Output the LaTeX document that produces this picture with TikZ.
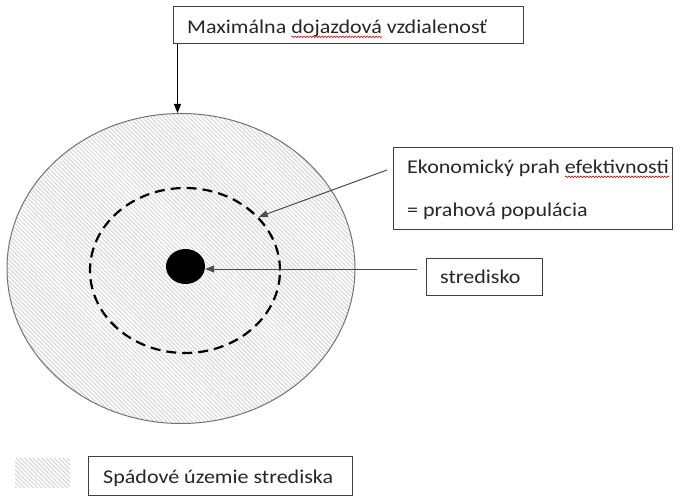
\documentclass[tikz,border=0pt]{standalone}
\usepackage{fontspec}
\setmainfont{Carlito}[FakeStretch=1.13]
\usetikzlibrary{arrows.meta,patterns.meta,shapes.geometric,calc,decorations.pathmorphing}
% red wavy underline, as a spell checker marks unknown words
\newlength\spellw
\newsavebox\spellbox
\newcommand\spellwave[1]{%
  \sbox\spellbox{#1}\setlength\spellw{\wd\spellbox}%
  \leavevmode\rlap{\usebox\spellbox}%
  \tikz[x=1pt,y=1pt,baseline=0pt]{%
    \useasboundingbox (0,0) rectangle (\spellw,0);
    \draw[red!85!black, line width=0.6pt, decorate,
      decoration={snake, amplitude=0.8pt, segment length=3pt}] (0,-3.5) -- (\spellw,-3.5);}}

\begin{document}
\begin{tikzpicture}[x=1pt,y=-1pt,
  lbl/.style={font=\fontsize{19.5}{23}\selectfont, text=black!85, inner sep=0pt, anchor=base west},
  frame/.style={draw=black!75, line width=1pt, inner sep=0pt, rectangle},
  hatch/.style={pattern={Lines[angle=-45,distance=3pt,line width=1pt]}, pattern color=black!16},
  pointer/.style={-{Triangle[length=9pt,width=7pt]}, line width=1pt},
]
\useasboundingbox (0,0) rectangle (684,497);
\fill[white] (0,0) rectangle (684,497);

% catchment area, threshold ring and the centre
\node[ellipse, hatch, draw=black!55, line width=1pt, minimum width=348pt, minimum height=310pt, inner sep=0pt] (catch) at (181,268.5) {};
\node[ellipse, draw=black, line width=2.2pt, dash pattern=on 10pt off 6pt, minimum width=190pt, minimum height=165pt, inner sep=0pt] (ring) at (185,270.5) {};
\node[ellipse, fill=black, minimum width=39pt, minimum height=35pt, inner sep=0pt] (dot) at (185.5,266.5) {};

% label boxes
\node[frame, minimum width=350pt, minimum height=37pt] (maxbox) at (348,25.5) {};
\node[lbl] (maxtext) at (187,33.3) {Maximálna \spellwave{dojazdová} vzdialenosť};

\node[frame, minimum width=279pt, minimum height=81pt] (econ) at (532.5,188.5) {};
\node[lbl] (econtext1) at (407,173.3) {Ekonomický prah \spellwave{efektivnosti}};
\node[lbl] (econtext2) at (407,216) {= prahová populácia};

\node[frame, minimum width=116pt, minimum height=37pt] (sbox) at (484,276.5) {};
\node[lbl] (stext) at (440,283) {stredisko};

% legend
\node[hatch, minimum width=55pt, minimum height=29pt, inner sep=0pt] (swatch) at (42.5,472.5) {};
\node[frame, minimum width=264pt, minimum height=39pt] (legbox) at (220,475.5) {};
\node[lbl] (legtext) at (103,483) {Spádové územie strediska};

% pointers
\coordinate (maxtail) at ($(maxbox.south west)+(5,0)$);
\draw[pointer] (maxtail) -- (maxtail |- catch.north);

\coordinate (econtail) at (387,170);
\draw[pointer, draw=black!70] (econtail) -- (ring.36);

\coordinate (stail) at (417,269);
\draw[pointer, draw=black!70] (stail) -- (dot.east |- stail);
\end{tikzpicture}
\end{document}
